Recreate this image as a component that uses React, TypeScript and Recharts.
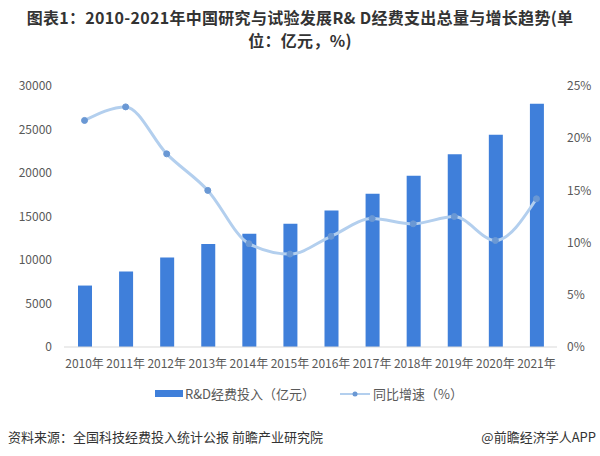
import React from 'react';
import { ComposedChart, Bar, Line, XAxis, YAxis } from 'recharts';

const years = ['2010年', '2011年', '2012年', '2013年', '2014年', '2015年', '2016年', '2017年', '2018年', '2019年', '2020年', '2021年'];
const spending = [7063, 8687, 10298, 11847, 13016, 14170, 15677, 17606, 19678, 22144, 24393, 27956];
const growth = [21.7, 23.0, 18.5, 15.0, 9.9, 8.9, 10.6, 12.3, 11.8, 12.5, 10.2, 14.2];
const leftTicks = [0, 5000, 10000, 15000, 20000, 25000, 30000];
const rightTicks = [0, 5, 10, 15, 20, 25];

const BAR_COLOR = '#3f7fda';
const LINE_COLOR = '#b3cfee';
const DOT_COLOR = '#6a98d4';
const FONT = '"Noto Sans CJK SC", "Noto Sans", sans-serif';

const data = years.map((year, i) => ({ year, spending: spending[i], growth: growth[i] }));

const LegendBox = () => (
  <div style={{ position: 'absolute', top: 384, left: 155, display: 'flex', alignItems: 'center', fontSize: 13, color: '#595959', whiteSpace: 'nowrap' }}>
    <span style={{ display: 'inline-block', width: 28, height: 7, background: BAR_COLOR, marginRight: 2 }} />
    <span style={{ marginRight: 25 }}>R&amp;D经费投入（亿元）</span>
    <svg width={30} height={10} style={{ marginRight: 3 }}>
      <line x1={0} y1={5} x2={30} y2={5} stroke={LINE_COLOR} strokeWidth={2} />
      <circle cx={15} cy={5} r={2.5} fill={DOT_COLOR} />
    </svg>
    <span>同比增速（%）</span>
  </div>
);

export default function App() {
  return (
    <div style={{ position: 'absolute', left: 0, top: 0, width: 600, height: 456, background: '#fff', fontFamily: FONT }}>
      <div style={{ position: 'absolute', top: 6, left: 0, width: 600, textAlign: 'center', fontSize: 16, fontWeight: 'bold', color: '#333', lineHeight: '23px', letterSpacing: 0.3 }}>
        图表1：2010-2021年中国研究与试验发展R&amp; D经费支出总量与增长趋势(单<br />位：亿元，%)
      </div>
      <ComposedChart width={600} height={456} data={data} margin={{ top: 86, right: 0, bottom: 79, left: 0 }} style={{ position: 'absolute', left: 0, top: 0 }}>
        <XAxis
          dataKey="year"
          interval={0}
          tickLine={false}
          axisLine={{ stroke: '#d9d9d9' }}
          tick={{ fontSize: 12, fill: '#595959', fontFamily: FONT }}
          tickMargin={6}
        />
        <YAxis
          yAxisId="left"
          width={64}
          domain={[0, 30000]}
          ticks={leftTicks}
          axisLine={false}
          tickLine={false}
          tickMargin={6}
          tick={{ fontSize: 12, fill: '#595959', fontFamily: FONT }}
        />
        <YAxis
          yAxisId="right"
          orientation="right"
          width={43}
          domain={[0, 25]}
          ticks={rightTicks}
          tickFormatter={(v: number) => `${v}%`}
          axisLine={false}
          tickLine={false}
          tickMargin={4}
          tick={{ fontSize: 12, fill: '#595959', fontFamily: FONT }}
        />
        <Bar yAxisId="left" dataKey="spending" fill={BAR_COLOR} barSize={14} isAnimationActive={false} />
        <Line
          yAxisId="right"
          dataKey="growth"
          type="monotone"
          stroke={LINE_COLOR}
          strokeWidth={3}
          dot={{ r: 3, fill: DOT_COLOR, stroke: DOT_COLOR, strokeWidth: 1 }}
          isAnimationActive={false}
        />
      </ComposedChart>
      <LegendBox />
      <div style={{ position: 'absolute', top: 427, left: 8, fontSize: 13, color: '#333' }}>
        资料来源：全国科技经费投入统计公报 前瞻产业研究院
      </div>
      <div style={{ position: 'absolute', top: 427, right: 4, fontSize: 13, color: '#333' }}>
        @前瞻经济学人APP
      </div>
    </div>
  );
}
